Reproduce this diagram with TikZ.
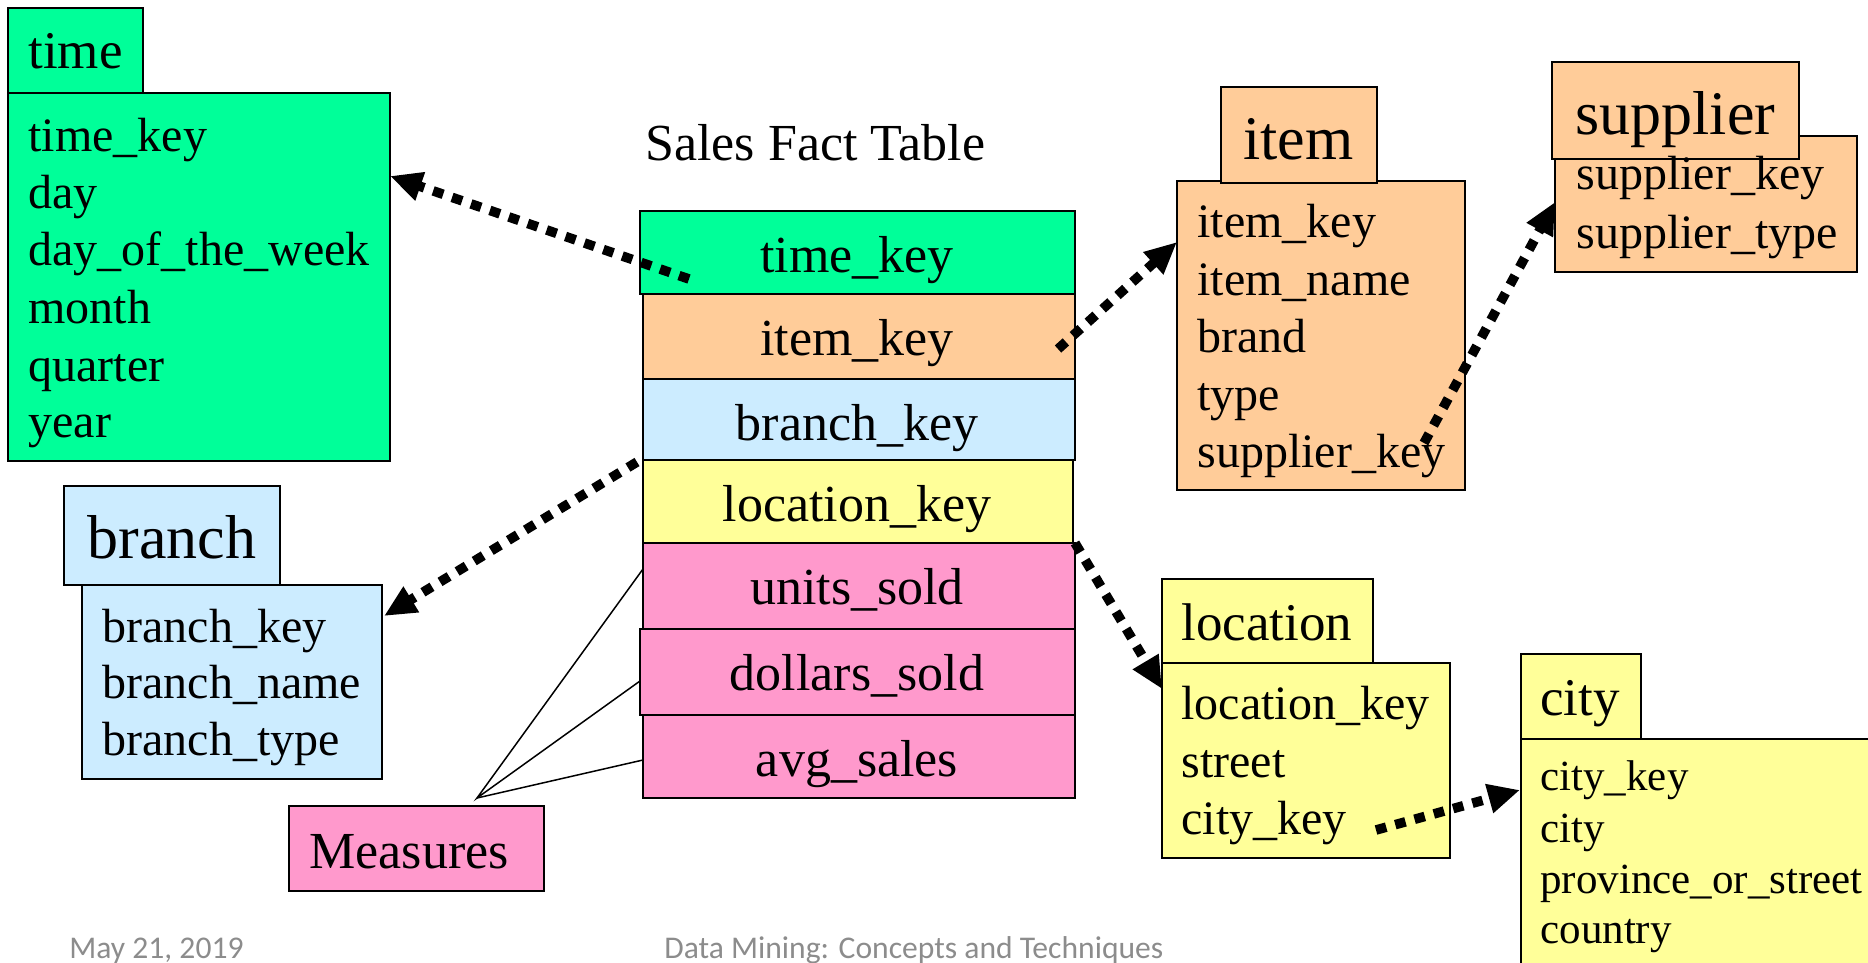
\documentclass[tikz,border=0pt]{standalone}
\usepackage{fontspec}
\setmainfont{Liberation Serif}
\newfontfamily\footfont{Carlito}
\usetikzlibrary{arrows.meta,fit}
\definecolor{cgreen}{HTML}{00FF99}
\definecolor{corange}{HTML}{FFCC99}
\definecolor{cblue}{HTML}{CCECFF}
\definecolor{cyellow}{HTML}{FFFF99}
\definecolor{cpink}{HTML}{FF99CC}
\definecolor{cfoot}{HTML}{8C8C8C}
\begin{document}
\begin{tikzpicture}[x=0.5pt,y=-0.5pt,
  box/.style={draw=black, line width=1pt, inner sep=0pt, outer sep=0pt},
  txt/.style={anchor=base west, inner sep=0pt, font=\fontsize{24}{28}\selectfont},
  smalltxt/.style={anchor=base west, inner sep=0pt, font=\fontsize{21.5}{25}\selectfont},
  bigttl/.style={anchor=base west, inner sep=0pt, font=\fontsize{31}{36}\selectfont},
  midttl/.style={anchor=base west, inner sep=0pt, font=\fontsize{26.5}{30}\selectfont},
  facttxt/.style={anchor=base, inner sep=0pt, font=\fontsize{26}{30}\selectfont},
  foot/.style={anchor=base west, inner sep=0pt, text=cfoot, font=\footfont\fontsize{15.8}{18}\selectfont},
  dotarrow/.style={line width=4.8pt, dash pattern=on 5.3pt off 4.7pt, -{Triangle[length=16pt,width=14pt]}},
  thinline/.style={line width=0.75pt}
]
\useasboundingbox (0,0) rectangle (1868,963);
\clip (0,0) rectangle (1868,963);

% ---------- time dimension ----------
\node[box, fill=cgreen, fit={(8,93) (390,461)}] (timeB) {};
\node[box, fill=cgreen, fit={(8,8) (143,93)}] (timeT) {};
\node[midttl] (timeTt) at (28,69) {time};
\node[txt] (t1) at (28,151) {time\_key};
\node[txt] (t2) at (28,208) {day};
\node[txt] (t3) at (28,265) {day\_of\_the\_week};
\node[txt] (t4) at (28,323) {month};
\node[txt] (t5) at (28,381) {quarter};
\node[txt] (t6) at (28,437) {year};

% ---------- item dimension ----------
\node[box, fill=corange, fit={(1177,181) (1465,490)}] (itemB) {};
\node[box, fill=corange, fit={(1221,87) (1377,183)}] (itemT) {};
\node[bigttl] (itemTt) at (1243,160) {item};
\node[txt] (i1) at (1197,237) {item\_key};
\node[txt] (i2) at (1197,295) {item\_name};
\node[txt] (i3) at (1197,352) {brand};
\node[txt] (i4) at (1197,410) {type};
\node[txt] (i5) at (1197,467) {supplier\_key};

% ---------- supplier dimension ----------
\node[box, fill=corange, fit={(1555,136) (1857,272)}] (supB) {};
\node[box, fill=corange, fit={(1552,62) (1799,159)}] (supT) {};
\node[bigttl] (supTt) at (1575,134) {supplier};
\node[txt] (s1) at (1576,190) {supplier\_key};
\node[txt] (s2) at (1576,248) {supplier\_type};

% ---------- branch dimension ----------
\node[box, fill=cblue, fit={(82,585) (382,779)}] (brB) {};
\node[box, fill=cblue, fit={(64,486) (280,585)}] (brT) {};
\node[bigttl] (brTt) at (87,558) {branch};
\node[txt] (b1) at (102,642) {branch\_key};
\node[txt] (b2) at (102,698) {branch\_name};
\node[txt] (b3) at (102,755) {branch\_type};

% ---------- location dimension ----------
\node[box, fill=cyellow, fit={(1162,663) (1450,858)}] (locB) {};
\node[box, fill=cyellow, fit={(1162,579) (1373,663)}] (locT) {};
\node[midttl] (locTt) at (1181,640) {location};
\node[txt] (l1) at (1181,719) {location\_key};
\node[txt] (l2) at (1181,777) {street};
\node[txt] (l3) at (1181,834) {city\_key};

% ---------- city dimension ----------
\node[box, fill=cyellow, fit={(1521,739) (1880,980)}] (cityB) {};
\node[box, fill=cyellow, fit={(1521,654) (1641,739)}] (cityT) {};
\node[midttl] (cityTt) at (1540,715) {city};
\node[smalltxt] (c1) at (1540,790) {city\_key};
\node[smalltxt] (c2) at (1540,842) {city};
\node[smalltxt] (c3) at (1540,893) {province\_or\_street};
\node[smalltxt] (c4) at (1540,943) {country};

% ---------- fact table ----------
\node[facttxt, anchor=base west] (factTt) at (645,161) {Sales Fact Table};
\node[box, fill=cgreen,   fit={(640,211) (1075,294)}] (f1) {};
\node[box, fill=corange,  fit={(643,294) (1075,379)}] (f2) {};
\node[box, fill=cblue,    fit={(643,379) (1075,460)}] (f3) {};
\node[box, fill=cyellow,  fit={(643,460) (1073,543)}] (f4) {};
\node[box, fill=cpink,    fit={(643,543) (1075,629)}] (f5) {};
\node[box, fill=cpink,    fit={(640,629) (1075,715)}] (f6) {};
\node[box, fill=cpink,    fit={(643,715) (1075,798)}] (f7) {};
\node[facttxt] (f1t) at (857,272) {time\_key};
\node[facttxt] (f2t) at (857,355) {item\_key};
\node[facttxt] (f3t) at (857,440) {branch\_key};
\node[facttxt] (f4t) at (857,521) {location\_key};
\node[facttxt] (f5t) at (857,604) {units\_sold};
\node[facttxt] (f6t) at (857,690) {dollars\_sold};
\node[facttxt] (f7t) at (857,776) {avg\_sales};

% ---------- measures ----------
\node[box, fill=cpink, fit={(289,806) (544,891)}] (meas) {};
\node[facttxt, anchor=base west] (measT) at (309,868) {Measures};
\coordinate (apex) at (477,798);
\coordinate (m1) at (643,569);
\coordinate (m2) at (640,681);
\coordinate (m3) at (643,760);
\draw[thinline] (m1) -- (apex) -- (m2);
\draw[thinline] (apex) -- (m3);

% ---------- connectors ----------
\coordinate (aTs) at (689,279);  \coordinate (aTe) at (390,176);
\coordinate (aIs) at (1058,349); \coordinate (aIe) at (1177,242);
\coordinate (aSs) at (1424,443); \coordinate (aSe) at (1555,202);
\coordinate (aBs) at (637,462);  \coordinate (aBe) at (384,616);
\coordinate (aLs) at (1075,543); \coordinate (aLe) at (1162,689);
\coordinate (aCs) at (1376,830); \coordinate (aCe) at (1520,790);
\draw[dotarrow] (aTs) -- (aTe);
\draw[dotarrow] (aIs) -- (aIe);
\draw[dotarrow] (aSs) -- (aSe);
\draw[dotarrow] (aBs) -- (aBe);
\draw[dotarrow] (aLs) -- (aLe);
\draw[dotarrow] (aCs) -- (aCe);

% ---------- footer ----------
\node[foot] (date) at (69,958) {May 21, 2019};
\node[foot] (book) at (664,958) {Data Mining: Concepts and Techniques};
\end{tikzpicture}
\end{document}
